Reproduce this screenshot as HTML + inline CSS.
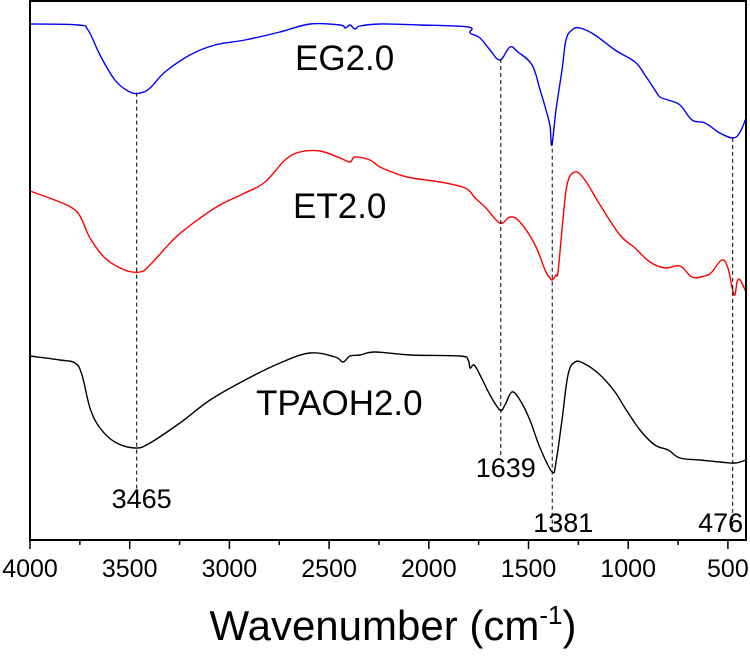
<!DOCTYPE html>
<html><head><meta charset="utf-8">
<style>
html,body{margin:0;padding:0;background:#fff;}
svg{display:block;font-family:"Liberation Sans",Arial,sans-serif;}
</style></head>
<body>
<svg id="chart" width="750" height="657" viewBox="0 0 750 657">
  <g id="series"></g>
  <g id="dashes"></g>
  <rect x="30" y="1" width="716" height="539" fill="none" stroke="#000" stroke-width="2"/>
  <g id="ticks"></g>
  <text x="295" y="70" font-size="35">EG2.0</text>
  <text x="293" y="218" font-size="35">ET2.0</text>
  <text x="256" y="415" font-size="35">TPAOH2.0</text>
  <text x="393" y="640" font-size="42" text-anchor="middle">Wavenumber (cm<tspan font-size="26" dy="-16">-1</tspan><tspan dy="16">)</tspan></text>
</svg>
<script>
const eg2 = [[4000,517],[3759,516],[3709,511],[3649,486],[3574,461],[3499,449],[3448,448],[3398,453],[3323,469],[3198,486],[3072,496],[2922,501],[2746,509],[2596,517],[2445,516],[2420,513],[2395,516],[2370,512],[2345,515],[2245,517],[2044,516],[1803,514],[1793,508],[1743,503],[1693,491],[1643,481],[1593,494],[1553,489],[1482,476],[1442,451],[1412,431],[1392,415],[1383,396],[1362,431],[1332,471],[1312,501],[1282,511],[1242,513],[1167,506],[1066,491],[966,479],[916,466],[866,451],[841,444],[800,441],[740,436],[680,421],[615,418],[540,408],[474,403],[439,409],[409,423]];
const et2 = [[4000,350],[3850,339],[3774,331],[3739,321],[3699,303],[3624,283],[3524,271],[3448,269],[3398,276],[3273,303],[3147,323],[3047,336],[2922,348],[2821,359],[2721,381],[2646,389],[2546,390],[2445,383],[2395,379],[2370,384],[2295,381],[2245,374],[2144,366],[2084,363],[1944,359],[1818,353],[1768,343],[1718,334],[1643,318],[1593,324],[1543,319],[1467,296],[1417,271],[1392,263],[1381,261],[1362,266],[1352,269],[1332,311],[1307,356],[1267,369],[1217,361],[1141,336],[1041,306],[966,293],[891,279],[815,273],[740,275],[680,264],[615,265],[580,269],[530,281],[500,273],[469,246],[454,259],[439,261],[409,249]];
const tpaoh2 = [[4000,185],[3850,181],[3774,178],[3739,166],[3699,133],[3649,113],[3574,99],[3473,93],[3398,98],[3248,118],[3097,141],[2922,161],[2746,178],[2596,188],[2470,184],[2430,179],[2395,185],[2345,186],[2270,189],[2094,186],[1844,185],[1803,181],[1793,173],[1773,176],[1743,166],[1693,146],[1643,131],[1618,136],[1583,149],[1543,141],[1493,121],[1442,93],[1381,69],[1362,79],[1332,121],[1302,166],[1267,179],[1217,177],[1141,166],[1066,149],[1016,133],[941,111],[866,96],[800,91],[740,83],[640,81],[540,79],[464,78],[409,81]];
const peaks = [3465,1639,1381,476];
const peakLabels = ["3465","1639","1381","476"];
const dashBottoms = [51,86,11,11];
const labelValues = [33,64,9,9];
const labelOffsets = [5,5,11,-12];
const tickValues = [4000,3500,3000,2500,2000,1500,1000,500];
const minorTicks = [3750,3250,2750,2250,1750,1250,750];

const NS = "http://www.w3.org/2000/svg";
const xS = w => 30 + (4000 - w) * 0.1994;
const yS = v => 541 - v;
function interp(s, w){
  for(let i=0;i<s.length-1;i++){
    const a=s[i],b=s[i+1];
    if(w<=a[0]&&w>=b[0]){const t=(a[0]-w)/(a[0]-b[0]);return a[1]+t*(b[1]-a[1]);}
  }
  return s[s.length-1][1];
}
function smoothPath(s){
  const P=s.map(d=>[xS(d[0]),yS(d[1])]);
  let d='M'+P[0][0].toFixed(1)+' '+P[0][1].toFixed(1);
  const k=0.18;
  for(let i=0;i<P.length-1;i++){
    const p0=P[Math.max(0,i-1)],p1=P[i],p2=P[i+1],p3=P[Math.min(P.length-1,i+2)];
    const c1=[p1[0]+(p2[0]-p0[0])*k,p1[1]+(p2[1]-p0[1])*k];
    const c2=[p2[0]-(p3[0]-p1[0])*k,p2[1]-(p3[1]-p1[1])*k];
    d+='C'+c1[0].toFixed(1)+' '+c1[1].toFixed(1)+' '+c2[0].toFixed(1)+' '+c2[1].toFixed(1)+' '+p2[0].toFixed(1)+' '+p2[1].toFixed(1);
  }
  return d;
}
const sg=document.getElementById('series');
const seriesList=[[eg2,'#0000ff','eg2-line'],[et2,'#ff0000','et2-line'],[tpaoh2,'#000000','tpaoh2-line']];
seriesList.forEach(([s,c,n])=>{
  const p=document.createElementNS(NS,'path');
  p.setAttribute('d',smoothPath(s));
  p.setAttribute('fill','none');p.setAttribute('stroke',c);p.setAttribute('stroke-width','1.4');
  p.setAttribute('stroke-linejoin','round');
  
  
  sg.appendChild(p);
});
const dg=document.getElementById('dashes');
peaks.forEach((w,i)=>{
  const l=document.createElementNS(NS,'line');
  l.setAttribute('x1',xS(w));l.setAttribute('x2',xS(w));
  l.setAttribute('y1',yS(interp(eg2,w)));l.setAttribute('y2',yS(dashBottoms[i]));
  l.setAttribute('stroke','#000');l.setAttribute('stroke-width','1');l.setAttribute('stroke-dasharray','4 3');
  
  
  dg.appendChild(l);
  const t=document.createElementNS(NS,'text');
  t.setAttribute('x',xS(w)+labelOffsets[i]);t.setAttribute('y',yS(labelValues[i]));
  t.setAttribute('font-size','27');t.setAttribute('text-anchor','middle');
  t.textContent=peakLabels[i];
  
  
  dg.appendChild(t);
});
const tg=document.getElementById('ticks');
tickValues.forEach(v=>{
  const l=document.createElementNS(NS,'line');
  l.setAttribute('x1',xS(v));l.setAttribute('x2',xS(v));l.setAttribute('y1',540);l.setAttribute('y2',549);
  l.setAttribute('stroke','#000');l.setAttribute('stroke-width','1.5');
  
  
  tg.appendChild(l);
  const t=document.createElementNS(NS,'text');
  t.setAttribute('x',xS(v));t.setAttribute('y',577);t.setAttribute('font-size','25');t.setAttribute('text-anchor','middle');
  t.textContent=v;
  
  
  tg.appendChild(t);
});
minorTicks.forEach(v=>{
  const l=document.createElementNS(NS,'line');
  l.setAttribute('x1',xS(v));l.setAttribute('x2',xS(v));l.setAttribute('y1',540);l.setAttribute('y2',545);
  l.setAttribute('stroke','#000');l.setAttribute('stroke-width','1.5');
  
  
  tg.appendChild(l);
});
</script>
</body></html>
